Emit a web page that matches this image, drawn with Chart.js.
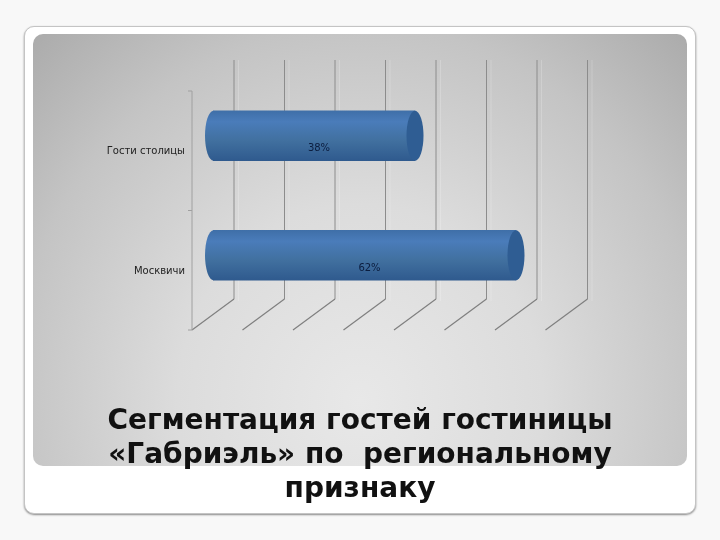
<!DOCTYPE html>
<html lang="ru">
<head>
<meta charset="utf-8">
<style>
  html, body { margin: 0; padding: 0; width: 720px; height: 540px; overflow: hidden; background: #f8f8f8; }
  #frame { position: absolute; left: 24px; top: 26px; width: 670px; height: 486px; background: #fff;
           border: 1px solid #c4c4c4; border-radius: 10px; box-shadow: 0 1px 2px #8a8a8a; }
  #panel { position: absolute; left: 33px; top: 34px; width: 654px; height: 432px; border-radius: 10px;
           background: radial-gradient(ellipse 435px 470px at 50% 85%, #e8e8e8 0%, #dcdcdc 42%, #c4c4c4 80%, #a8a8a8 112%); }
  #wrap { position: absolute; left: 0; top: 0; width: 720px; height: 540px; }
  #title { position: absolute; left: 0; top: 403px; width: 720px; text-align: center; color: #111; white-space: pre;
           font: bold 28px/34px "DejaVu Sans", sans-serif; }
</style>
</head>
<body>
<div id="frame"></div>
<div id="panel"></div>
<div id="wrap"><canvas id="chart" width="720" height="540"></canvas></div>
<div id="title"></div>
<script src="https://cdn.jsdelivr.net/npm/chart.js@4"></script>
<script>
const categories = ["Гости столицы", "Москвичи"];
const barValues = [4, 6]; // where the bar ends sit on the grid
const barLabels = ["38%", "62%"];
const axisMax = 7;
const titleLines = ["Сегментация гостей гостиницы", "«Габриэль» по  региональному", "признаку"];

const depthBack = { x: 21, y: -16 };
const depthFront = { x: -21, y: 15 };

document.getElementById("title").textContent = titleLines.join("\n");

function tubeGradient(ctx, y, h) {
  const g = ctx.createLinearGradient(0, y - h, 0, y + h);
  g.addColorStop(0, "#3f6fa8");
  g.addColorStop(0.22, "#4a7cba");
  g.addColorStop(0.6, "#41709f");
  g.addColorStop(1, "#2f5a8e");
  return g;
}

// side walls and floor lines of the 3d box
const gridPlugin = {
  id: "grid3d",
  beforeDatasetsDraw(chart) {
    const { ctx, chartArea, scales } = chart;
    const top = chartArea.top + depthBack.y;
    const backY = chartArea.bottom + depthBack.y;
    const frontY = chartArea.bottom + depthFront.y;
    ctx.save();
    scales.x.ticks.forEach(t => {
      const x = scales.x.getPixelForValue(t.value);
      ctx.strokeStyle = "rgba(255,255,255,0.2)";
      ctx.lineWidth = 1;
      ctx.beginPath();
      ctx.moveTo(x + depthBack.x + 4.5, top);
      ctx.lineTo(x + depthBack.x + 4.5, backY + 2);
      ctx.stroke();
      ctx.strokeStyle = "#8c8c8c";
      ctx.beginPath();
      ctx.moveTo(x + depthBack.x, top);
      ctx.lineTo(x + depthBack.x, backY);
      ctx.stroke();
      ctx.strokeStyle = "#7f7f7f";
      ctx.lineWidth = 1.2;
      ctx.beginPath();
      ctx.moveTo(x + depthBack.x, backY);
      ctx.lineTo(x + depthFront.x, frontY);
      ctx.stroke();
    });
    // front axis with its ticks
    const axisX = scales.x.getPixelForValue(0) + depthFront.x;
    const axisTop = chartArea.top + depthFront.y;
    ctx.strokeStyle = "#a0a0a0";
    ctx.lineWidth = 1;
    ctx.beginPath();
    ctx.moveTo(axisX, axisTop);
    ctx.lineTo(axisX, frontY);
    ctx.stroke();
    [axisTop, (axisTop + frontY) / 2, frontY].forEach(y => {
      ctx.beginPath();
      ctx.moveTo(axisX - 4, y);
      ctx.lineTo(axisX, y);
      ctx.stroke();
    });
    // rounded far end of each bar
    chart.getDatasetMeta(0).data.forEach(bar => {
      const h = bar.height / 2;
      ctx.fillStyle = tubeGradient(ctx, bar.y, h);
      ctx.beginPath();
      ctx.ellipse(bar.base + 0.5, bar.y, 8.5, h, 0, Math.PI / 2, Math.PI * 1.5);
      ctx.fill();
    });
    ctx.restore();
  },
  afterDatasetsDraw(chart) {
    const { ctx, scales } = chart;
    ctx.save();
    chart.getDatasetMeta(0).data.forEach((bar, i) => {
      const h = bar.height / 2;
      // end cap
      ctx.fillStyle = "#2f5d93";
      ctx.beginPath();
      ctx.ellipse(bar.x, bar.y, 8.5, h, 0, 0, Math.PI * 2);
      ctx.fill();
      // value label
      ctx.fillStyle = "#0b1d3f";
      ctx.font = "10px 'DejaVu Sans'";
      ctx.textAlign = "center";
      ctx.textBaseline = "middle";
      ctx.fillText(barLabels[i], (bar.x + bar.base) / 2 + 5, bar.y + 13);
      // category label on the front plane
      ctx.fillStyle = "#222";
      ctx.textAlign = "right";
      ctx.fillText(categories[i], scales.x.getPixelForValue(0) - 28, scales.y.getPixelForValue(i) + 16);
    });
    ctx.restore();
  }
};

new Chart(document.getElementById("chart"), {
  type: "bar",
  plugins: [gridPlugin],
  data: {
    labels: categories,
    datasets: [{
      data: barValues,
      barThickness: 50,
      backgroundColor: c => {
        if (!c.chart.chartArea) return "#41709f";
        return tubeGradient(c.chart.ctx, c.chart.scales.y.getPixelForValue(c.dataIndex), 25);
      }
    }]
  },
  options: {
    indexAxis: "y",
    responsive: false,
    animation: false,
    devicePixelRatio: 1,
    layout: { padding: { left: 213, right: 153.5, top: 76, bottom: 225 } },
    scales: {
      x: { display: false, min: 0, max: axisMax, ticks: { stepSize: 1 } },
      y: { display: false }
    },
    plugins: {
      legend: { display: false },
      tooltip: { enabled: false },
      title: { display: false }
    }
  }
});
</script>
</body>
</html>
